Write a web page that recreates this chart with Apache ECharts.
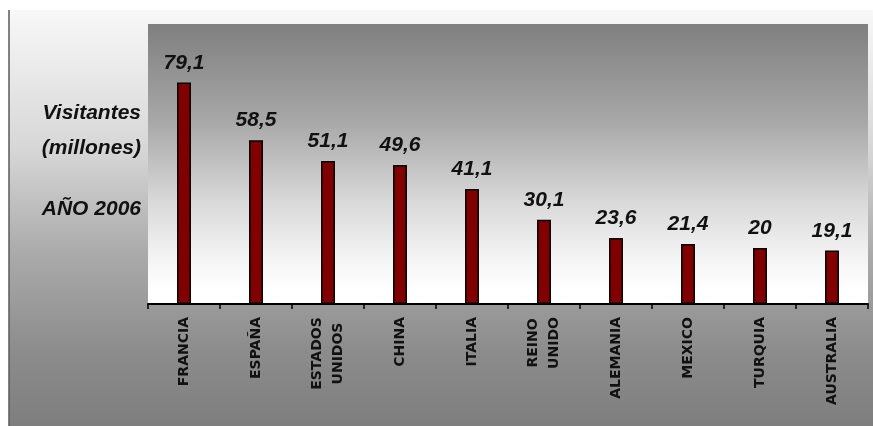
<!DOCTYPE html>
<html>
<head>
<meta charset="utf-8">
<script src="https://cdn.jsdelivr.net/npm/echarts@6/dist/echarts.min.js"></script>
<style>
  html, body { margin: 0; padding: 0; background: #ffffff; }
  #chart { width: 873px; height: 426px; }
</style>
</head>
<body>
<div id="chart"></div>
<script>
// ---- data ----
var categories = ['FRANCIA', 'ESPAÑA', 'ESTADOS\nUNIDOS', 'CHINA', 'ITALIA', 'REINO\nUNIDO', 'ALEMANIA', 'MEXICO', 'TURQUIA', 'AUSTRALIA'];
var visitantes = [79.1, 58.5, 51.1, 49.6, 41.1, 30.1, 23.6, 21.4, 20, 19.1];
var sideTexts = ['Visitantes', '(millones)', 'AÑO 2006'];

var catFont = 'bold 14px "DejaVu Sans"';
var measureCtx = document.createElement('canvas').getContext('2d');
measureCtx.font = catFont;
function textW(s) { return Math.ceil(measureCtx.measureText(s).width); }

var chart = echarts.init(document.getElementById('chart'), null, { renderer: 'canvas' });

var option = {
  backgroundColor: '#ffffff',
  animation: false,
  graphic: [
    {
      type: 'rect', z: -100, silent: true,
      shape: { x: 9, y: 10, width: 864, height: 416 },
      style: {
        fill: new echarts.graphic.LinearGradient(0, 0, 0, 1, [
          { offset: 0, color: '#f8f8f8' },
          { offset: 0.34, color: '#d6d6d6' },
          { offset: 0.58, color: '#ababab' },
          { offset: 0.82, color: '#8c8c8c' },
          { offset: 1, color: '#7e7e7e' }
        ])
      }
    },
    {
      type: 'line', z: -99, silent: true,
      shape: { x1: 9, y1: 10, x2: 9, y2: 426 },
      style: { stroke: '#5a5a5a', lineWidth: 1.5 }
    },
    {
      type: 'text', left: null, x: 141, y: 113, z: 10,
      style: { text: sideTexts[0], font: 'bold italic 21px "Liberation Sans"', fill: '#111111', align: 'right', verticalAlign: 'middle' }
    },
    {
      type: 'text', x: 141, y: 148, z: 10,
      style: { text: sideTexts[1], font: 'bold italic 21px "Liberation Sans"', fill: '#111111', align: 'right', verticalAlign: 'middle' }
    },
    {
      type: 'text', x: 141, y: 209, z: 10,
      style: { text: sideTexts[2], font: 'bold italic 21px "Liberation Sans"', fill: '#111111', align: 'right', verticalAlign: 'middle' }
    }
  ],
  grid: {
    left: 148, right: 5, top: 24, bottom: 122,
    show: true,
    borderWidth: 0,
    backgroundColor: new echarts.graphic.LinearGradient(0, 0, 0, 1, [
      { offset: 0, color: '#7f7f7f' },
      { offset: 0.35, color: '#a8a8a8' },
      { offset: 0.63, color: '#d8d8d8' },
      { offset: 0.82, color: '#f2f2f2' },
      { offset: 0.95, color: '#ffffff' },
      { offset: 1, color: '#ffffff' }
    ])
  },
  xAxis: {
    type: 'category',
    data: categories,
    boundaryGap: true,
    axisLine: { show: true, lineStyle: { color: '#000000', width: 2 } },
    axisTick: { show: true, length: 5, lineStyle: { color: '#000000', width: 1.5 } },
    axisLabel: {
      interval: 0,
      rotate: 90,
      margin: 13,
      color: '#111111',
      fontFamily: 'DejaVu Sans',
      fontWeight: 'bold',
      fontSize: 14,
      lineHeight: 21,
      formatter: function (v) {
        var lines = v.split('\n');
        if (lines.length === 1) return v;
        var w = Math.max.apply(null, lines.map(textW));
        return lines.map(function (s) { return '{c' + w + '|' + s + '}'; }).join('\n');
      },
      rich: (function () {
        var r = {};
        categories.forEach(function (c) {
          var lines = c.split('\n');
          if (lines.length > 1) {
            var w = Math.max.apply(null, lines.map(textW));
            r['c' + w] = {
              width: w, align: 'center', lineHeight: 21,
              fontFamily: 'DejaVu Sans', fontWeight: 'bold', fontSize: 14, color: '#111111'
            };
          }
        });
        return r;
      })()
    }
  },
  yAxis: {
    type: 'value',
    min: 0, max: 100,
    show: false,
    splitLine: { show: false }
  },
  series: [{
    type: 'bar',
    data: visitantes,
    barWidth: 14,
    itemStyle: { color: '#800000', borderColor: '#000000', borderWidth: 1.5 },
    label: {
      show: true,
      position: 'top',
      distance: 9,
      color: '#111111',
      fontFamily: 'Liberation Sans',
      fontWeight: 'bold',
      fontStyle: 'italic',
      fontSize: 21,
      formatter: function (p) { return String(p.value).replace('.', ','); }
    }
  }]
};

chart.setOption(option);
</script>
</body>
</html>
